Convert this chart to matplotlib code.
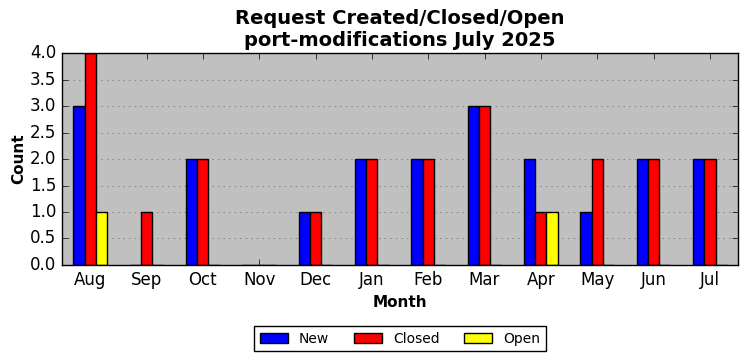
import matplotlib
matplotlib.use("Agg")
import matplotlib.pyplot as plt
import numpy as np

months = ["Aug", "Sep", "Oct", "Nov", "Dec", "Jan", "Feb", "Mar", "Apr", "May", "Jun", "Jul"]
new = [3, 0, 2, 0, 1, 2, 2, 3, 2, 1, 2, 2]
closed = [4, 1, 2, 0, 1, 2, 2, 3, 1, 2, 2, 2]
opened = [1, 0, 0, 0, 0, 0, 0, 0, 1, 0, 0, 0]

plt.style.use("classic")

fig = plt.figure(figsize=(7.47, 3.61), dpi=100, facecolor="white")
ax = fig.add_axes([0.083, 0.266, 0.905, 0.587])
ax.set_facecolor("#c0c0c0")

x = np.arange(len(months))
w = 0.2
ax.bar(x - w, new, w, color="blue", edgecolor="black", label="New", align="center")
ax.bar(x, closed, w, color="red", edgecolor="black", label="Closed", align="center")
ax.bar(x + w, opened, w, color="yellow", edgecolor="black", label="Open", align="center")

ax.set_xlim(-0.5, len(months) - 0.5)
ax.set_ylim(0, 4)
ax.set_yticks(np.arange(0, 4.01, 0.5))
ax.set_xticks(x)
ax.set_xticklabels(months)
ax.tick_params(labelsize=12)
ax.yaxis.grid(True, linestyle=":", color="gray", linewidth=0.7)
ax.set_axisbelow(True)

ax.set_xlabel("Month", fontsize=11, fontweight="bold")
ax.set_ylabel("Count", fontsize=11, fontweight="bold", labelpad=3)
ax.set_title("Request Created/Closed/Open\nport-modifications July 2025",
             fontsize=14, fontweight="bold", linespacing=1.18, pad=5)

ax.legend(loc="upper center", bbox_to_anchor=(0.5, -0.255), ncol=3,
          fontsize=10, frameon=True, fancybox=False, numpoints=1,
          columnspacing=1.8)

fig.savefig("out.png", dpi=100, facecolor="white")
